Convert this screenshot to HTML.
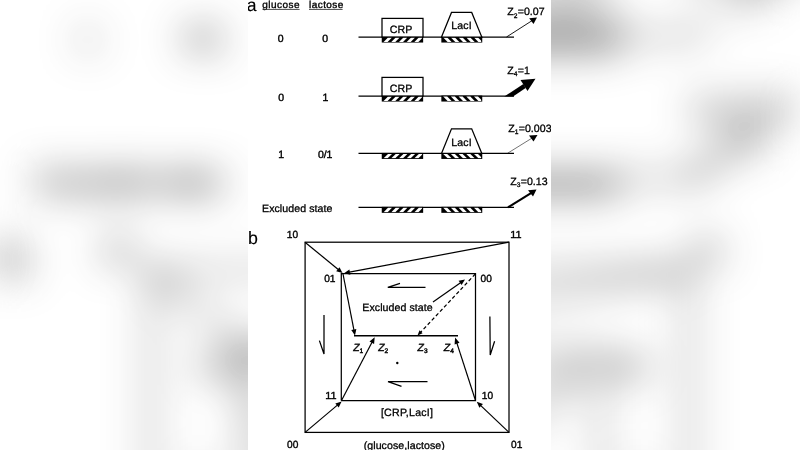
<!DOCTYPE html>
<html><head><meta charset="utf-8"><title>Figure</title>
<style>
html,body{margin:0;padding:0;background:#fff;}
body{width:800px;height:450px;overflow:hidden;position:relative;}
svg{position:absolute;left:0;top:0;display:block;}
text{text-rendering:geometricPrecision;font-family:"Liberation Sans",Arial,Helvetica,sans-serif;fill:#000;stroke:#000;stroke-width:0.29px;letter-spacing:0.07px;}
</style></head><body>
<svg width="800" height="450" viewBox="0 0 800 450">
<defs>
<clipPath id="c0"><rect x="382.8" y="37" width="39.3" height="5.1"/></clipPath><clipPath id="c1"><rect x="442.40000000000003" y="37" width="38.8" height="5.1"/></clipPath><clipPath id="c2"><rect x="382.8" y="96" width="39.3" height="5.1"/></clipPath><clipPath id="c3"><rect x="442.40000000000003" y="96" width="38.8" height="5.1"/></clipPath><clipPath id="c4"><rect x="382.8" y="153.4" width="39.3" height="5.1"/></clipPath><clipPath id="c5"><rect x="442.40000000000003" y="153.4" width="38.8" height="5.1"/></clipPath><clipPath id="c6"><rect x="382.8" y="207.3" width="39.3" height="5.1"/></clipPath><clipPath id="c7"><rect x="442.40000000000003" y="207.3" width="38.8" height="5.1"/></clipPath>
<filter id="blur" x="-20%" y="-20%" width="140%" height="140%"><feGaussianBlur stdDeviation="21"/><feComponentTransfer><feFuncR type="linear" slope="1.9" intercept="-0.9"/><feFuncG type="linear" slope="1.9" intercept="-0.9"/><feFuncB type="linear" slope="1.9" intercept="-0.9"/></feComponentTransfer></filter>
<filter id="soft" x="0" y="0" width="100%" height="100%" filterUnits="userSpaceOnUse"><feGaussianBlur stdDeviation="0.4"/></filter>
<clipPath id="figclip"><rect x="248" y="0" width="303" height="450"/></clipPath>
<g id="fig">
<rect x="248" y="0" width="303" height="450" fill="#fff"/>
<text x="246.8" y="10.6" font-size="17.6" text-anchor="start" style="stroke-width:0.12px">a</text>
<text x="248.1" y="243.5" font-size="17.8" text-anchor="start" style="stroke-width:0.12px">b</text>
<text x="262.3" y="7.6" font-size="10.0" text-anchor="start" style="letter-spacing:0.45px;stroke-width:0.35px">glucose</text>
<text x="309" y="7.6" font-size="10.0" text-anchor="start" style="letter-spacing:0.45px;stroke-width:0.35px">lactose</text>
<line x1="262.5" y1="9.4" x2="299.6" y2="9.4" stroke="#333" stroke-width="0.9"/>
<line x1="309" y1="9.4" x2="342.6" y2="9.4" stroke="#333" stroke-width="0.9"/>
<text x="280.5" y="41.6" font-size="10.5" text-anchor="middle" style="stroke-width:0.4px;letter-spacing:-0.15px">0</text>
<text x="325" y="41.6" font-size="10.5" text-anchor="middle" style="stroke-width:0.4px;letter-spacing:-0.15px">0</text>
<text x="281" y="100.8" font-size="10.5" text-anchor="middle" style="stroke-width:0.4px;letter-spacing:-0.15px">0</text>
<text x="325.3" y="100.8" font-size="10.5" text-anchor="middle" style="stroke-width:0.4px;letter-spacing:-0.15px">1</text>
<text x="281.2" y="157.8" font-size="10.5" text-anchor="middle" style="stroke-width:0.4px;letter-spacing:-0.15px">1</text>
<text x="325.2" y="157.8" font-size="10.5" text-anchor="middle" style="stroke-width:0.4px;letter-spacing:-0.15px">0/1</text>
<text x="262" y="212.2" font-size="10.6" text-anchor="start" >Excluded state</text>
<line x1="358.5" y1="37" x2="514" y2="37" stroke="#000" stroke-width="1.25"/>
<g><rect x="381.75" y="36.55" width="41.4" height="6.0" fill="#000"/><polygon points="383.60,41.9 387.60,41.9 392.00,37.5 388.00,37.5" fill="#fff" clip-path="url(#c0)"/><polygon points="391.30,41.9 395.30,41.9 399.70,37.5 395.70,37.5" fill="#fff" clip-path="url(#c0)"/><polygon points="399.00,41.9 403.00,41.9 407.40,37.5 403.40,37.5" fill="#fff" clip-path="url(#c0)"/><polygon points="406.70,41.9 410.70,41.9 415.10,37.5 411.10,37.5" fill="#fff" clip-path="url(#c0)"/><polygon points="414.40,41.9 418.40,41.9 422.80,37.5 418.80,37.5" fill="#fff" clip-path="url(#c0)"/></g>
<g><rect x="441.35" y="36.55" width="40.9" height="6.0" fill="#000"/><polygon points="447.60,41.9 451.60,41.9 447.20,37.5 443.20,37.5" fill="#fff" clip-path="url(#c1)"/><polygon points="455.30,41.9 459.30,41.9 454.90,37.5 450.90,37.5" fill="#fff" clip-path="url(#c1)"/><polygon points="463.00,41.9 467.00,41.9 462.60,37.5 458.60,37.5" fill="#fff" clip-path="url(#c1)"/><polygon points="470.70,41.9 474.70,41.9 470.30,37.5 466.30,37.5" fill="#fff" clip-path="url(#c1)"/><polygon points="478.40,41.9 482.40,41.9 478.00,37.5 474.00,37.5" fill="#fff" clip-path="url(#c1)"/></g>
<line x1="358.5" y1="96" x2="514" y2="96" stroke="#000" stroke-width="1.25"/>
<g><rect x="381.75" y="95.55" width="41.4" height="6.0" fill="#000"/><polygon points="383.60,100.89999999999999 387.60,100.89999999999999 392.00,96.5 388.00,96.5" fill="#fff" clip-path="url(#c2)"/><polygon points="391.30,100.89999999999999 395.30,100.89999999999999 399.70,96.5 395.70,96.5" fill="#fff" clip-path="url(#c2)"/><polygon points="399.00,100.89999999999999 403.00,100.89999999999999 407.40,96.5 403.40,96.5" fill="#fff" clip-path="url(#c2)"/><polygon points="406.70,100.89999999999999 410.70,100.89999999999999 415.10,96.5 411.10,96.5" fill="#fff" clip-path="url(#c2)"/><polygon points="414.40,100.89999999999999 418.40,100.89999999999999 422.80,96.5 418.80,96.5" fill="#fff" clip-path="url(#c2)"/></g>
<g><rect x="441.35" y="95.55" width="40.9" height="6.0" fill="#000"/><polygon points="447.60,100.89999999999999 451.60,100.89999999999999 447.20,96.5 443.20,96.5" fill="#fff" clip-path="url(#c3)"/><polygon points="455.30,100.89999999999999 459.30,100.89999999999999 454.90,96.5 450.90,96.5" fill="#fff" clip-path="url(#c3)"/><polygon points="463.00,100.89999999999999 467.00,100.89999999999999 462.60,96.5 458.60,96.5" fill="#fff" clip-path="url(#c3)"/><polygon points="470.70,100.89999999999999 474.70,100.89999999999999 470.30,96.5 466.30,96.5" fill="#fff" clip-path="url(#c3)"/><polygon points="478.40,100.89999999999999 482.40,100.89999999999999 478.00,96.5 474.00,96.5" fill="#fff" clip-path="url(#c3)"/></g>
<line x1="358.5" y1="153.4" x2="514" y2="153.4" stroke="#000" stroke-width="1.25"/>
<g><rect x="381.75" y="152.95000000000002" width="41.4" height="6.0" fill="#000"/><polygon points="383.60,158.3 387.60,158.3 392.00,153.9 388.00,153.9" fill="#fff" clip-path="url(#c4)"/><polygon points="391.30,158.3 395.30,158.3 399.70,153.9 395.70,153.9" fill="#fff" clip-path="url(#c4)"/><polygon points="399.00,158.3 403.00,158.3 407.40,153.9 403.40,153.9" fill="#fff" clip-path="url(#c4)"/><polygon points="406.70,158.3 410.70,158.3 415.10,153.9 411.10,153.9" fill="#fff" clip-path="url(#c4)"/><polygon points="414.40,158.3 418.40,158.3 422.80,153.9 418.80,153.9" fill="#fff" clip-path="url(#c4)"/></g>
<g><rect x="441.35" y="152.95000000000002" width="40.9" height="6.0" fill="#000"/><polygon points="447.60,158.3 451.60,158.3 447.20,153.9 443.20,153.9" fill="#fff" clip-path="url(#c5)"/><polygon points="455.30,158.3 459.30,158.3 454.90,153.9 450.90,153.9" fill="#fff" clip-path="url(#c5)"/><polygon points="463.00,158.3 467.00,158.3 462.60,153.9 458.60,153.9" fill="#fff" clip-path="url(#c5)"/><polygon points="470.70,158.3 474.70,158.3 470.30,153.9 466.30,153.9" fill="#fff" clip-path="url(#c5)"/><polygon points="478.40,158.3 482.40,158.3 478.00,153.9 474.00,153.9" fill="#fff" clip-path="url(#c5)"/></g>
<line x1="358.5" y1="207.3" x2="514" y2="207.3" stroke="#000" stroke-width="1.25"/>
<g><rect x="381.75" y="206.85000000000002" width="41.4" height="6.0" fill="#000"/><polygon points="383.60,212.20000000000002 387.60,212.20000000000002 392.00,207.8 388.00,207.8" fill="#fff" clip-path="url(#c6)"/><polygon points="391.30,212.20000000000002 395.30,212.20000000000002 399.70,207.8 395.70,207.8" fill="#fff" clip-path="url(#c6)"/><polygon points="399.00,212.20000000000002 403.00,212.20000000000002 407.40,207.8 403.40,207.8" fill="#fff" clip-path="url(#c6)"/><polygon points="406.70,212.20000000000002 410.70,212.20000000000002 415.10,207.8 411.10,207.8" fill="#fff" clip-path="url(#c6)"/><polygon points="414.40,212.20000000000002 418.40,212.20000000000002 422.80,207.8 418.80,207.8" fill="#fff" clip-path="url(#c6)"/></g>
<g><rect x="441.35" y="206.85000000000002" width="40.9" height="6.0" fill="#000"/><polygon points="447.60,212.20000000000002 451.60,212.20000000000002 447.20,207.8 443.20,207.8" fill="#fff" clip-path="url(#c7)"/><polygon points="455.30,212.20000000000002 459.30,212.20000000000002 454.90,207.8 450.90,207.8" fill="#fff" clip-path="url(#c7)"/><polygon points="463.00,212.20000000000002 467.00,212.20000000000002 462.60,207.8 458.60,207.8" fill="#fff" clip-path="url(#c7)"/><polygon points="470.70,212.20000000000002 474.70,212.20000000000002 470.30,207.8 466.30,207.8" fill="#fff" clip-path="url(#c7)"/><polygon points="478.40,212.20000000000002 482.40,212.20000000000002 478.00,207.8 474.00,207.8" fill="#fff" clip-path="url(#c7)"/></g>
<rect x="382" y="18.4" width="41" height="18.6" fill="#fff" stroke="#000" stroke-width="1.25"/>
<text x="401" y="33.2" font-size="10.6" text-anchor="middle" >CRP</text>
<rect x="382" y="77.4" width="41" height="18.6" fill="#fff" stroke="#000" stroke-width="1.25"/>
<text x="401" y="92.2" font-size="10.6" text-anchor="middle" >CRP</text>
<polygon points="441.5,37 451.5,12.399999999999999 471.7,12.399999999999999 481.8,37" fill="#fff" stroke="#000" stroke-width="1.25"/>
<text x="461.5" y="29.4" font-size="10.6" text-anchor="middle" >LacI</text>
<polygon points="441.5,153.4 451.5,128.8 471.7,128.8 481.8,153.4" fill="#fff" stroke="#000" stroke-width="1.25"/>
<text x="461.5" y="145.8" font-size="10.6" text-anchor="middle" >LacI</text>
<line x1="506.5" y1="37" x2="532.20" y2="20.56" stroke="#000" stroke-width="0.9"/><polygon points="537,17.5 529.2,18.2 533.5,24" fill="#000"/>
<polygon points="504.3,96.6 513,96.6 525.7,88.1 523.4,83.9" fill="#000"/><polygon points="535.5,78.8 520.5,80 527.5,91" fill="#000"/>
<line x1="507.5" y1="153.3" x2="532.19" y2="137.97" stroke="#000" stroke-width="0.55"/><polygon points="537.5,135 529,135.5 533.5,141.5" fill="#000"/>
<line x1="508" y1="207.3" x2="531.40" y2="192.81" stroke="#000" stroke-width="2.1"/><polygon points="536.5,189.5 528,190.3 533,196.5" fill="#000"/>
<text x="507.3" y="15.0" font-size="10.6"><tspan>Z</tspan><tspan font-size="6.68" dy="2.5">2</tspan><tspan dy="-2.5">=0.07</tspan></text>
<text x="507.3" y="73.5" font-size="10.6"><tspan>Z</tspan><tspan font-size="6.68" dy="2.5">4</tspan><tspan dy="-2.5">=1</tspan></text>
<text x="508.3" y="131.5" font-size="10.6"><tspan>Z</tspan><tspan font-size="6.68" dy="2.5">1</tspan><tspan dy="-2.5">=0.003</tspan></text>
<text x="510.3" y="184.5" font-size="10.6"><tspan>Z</tspan><tspan font-size="6.68" dy="2.5">3</tspan><tspan dy="-2.5">=0.13</tspan></text>
<rect x="305.1" y="242.2" width="203.9" height="190.2" fill="none" stroke="#000" stroke-width="1.25"/>
<polyline points="341.3,400.6 341.3,273.5 475.5,273.5 475.5,400.6 341.3,400.6" fill="none" stroke="#000" stroke-width="1.25"/>
<text x="286.8" y="237.75" font-size="10.3" text-anchor="start" textLength="11.3" lengthAdjust="spacingAndGlyphs" style="stroke-width:0.38px;letter-spacing:0">10</text>
<text x="510.3" y="237.75" font-size="10.3" text-anchor="start" textLength="11.3" lengthAdjust="spacingAndGlyphs" style="stroke-width:0.38px;letter-spacing:0">11</text>
<text x="324.2" y="282.25" font-size="10.3" text-anchor="start" textLength="11.3" lengthAdjust="spacingAndGlyphs" style="stroke-width:0.38px;letter-spacing:0">01</text>
<text x="480.6" y="282.25" font-size="10.3" text-anchor="start" textLength="11.3" lengthAdjust="spacingAndGlyphs" style="stroke-width:0.38px;letter-spacing:0">00</text>
<text x="325.3" y="398.95000000000005" font-size="10.3" text-anchor="start" textLength="11.3" lengthAdjust="spacingAndGlyphs" style="stroke-width:0.38px;letter-spacing:0">11</text>
<text x="481.8" y="398.95000000000005" font-size="10.3" text-anchor="start" textLength="11.3" lengthAdjust="spacingAndGlyphs" style="stroke-width:0.38px;letter-spacing:0">10</text>
<text x="287" y="447.85" font-size="10.3" text-anchor="start" textLength="11.3" lengthAdjust="spacingAndGlyphs" style="stroke-width:0.38px;letter-spacing:0">00</text>
<text x="511" y="447.85" font-size="10.3" text-anchor="start" textLength="11.3" lengthAdjust="spacingAndGlyphs" style="stroke-width:0.38px;letter-spacing:0">01</text>
<text x="404.3" y="448.6" font-size="10.6" text-anchor="middle" >(glucose,lactose)</text>
<text x="407.1" y="416.3" font-size="10.6" text-anchor="middle" style="letter-spacing:0.25px">[CRP,LacI]</text>
<text x="362.3" y="310.7" font-size="10.6" text-anchor="start" >Excluded state</text>
<line x1="305" y1="242.2" x2="338.25" y2="269.51" stroke="#000" stroke-width="1.2"/><polygon points="342.50,273.00 336.21,271.20 339.51,267.18" fill="#000"/>
<line x1="509" y1="242.2" x2="349.41" y2="272.18" stroke="#000" stroke-width="1.2"/><polygon points="344.00,273.20 349.42,269.54 350.38,274.65" fill="#000"/>
<line x1="305.1" y1="432.4" x2="337.40" y2="405.15" stroke="#000" stroke-width="1.2"/><polygon points="341.60,401.60 338.69,407.46 335.34,403.48" fill="#000"/>
<line x1="509" y1="432.4" x2="480.79" y2="405.59" stroke="#000" stroke-width="1.2"/><polygon points="476.80,401.80 482.94,404.05 479.36,407.82" fill="#000"/>
<line x1="354" y1="335.7" x2="458" y2="335.7" stroke="#000" stroke-width="1.6"/>
<line x1="343" y1="274" x2="353.89" y2="329.91" stroke="#000" stroke-width="1.2"/><polygon points="355.00,335.60 351.24,329.91 356.35,328.92" fill="#000"/>
<line x1="341.5" y1="400.5" x2="372.01" y2="342.34" stroke="#000" stroke-width="1.2"/><polygon points="374.70,337.20 374.08,343.99 369.47,341.57" fill="#000"/>
<line x1="475.5" y1="400.5" x2="456.89" y2="343.12" stroke="#000" stroke-width="1.2"/><polygon points="455.10,337.60 459.52,342.79 454.57,344.39" fill="#000"/>
<line x1="433" y1="302" x2="460.50" y2="282.66" stroke="#000" stroke-width="1.2"/><polygon points="465.00,279.50 461.59,285.08 458.60,280.82" fill="#000"/>
<line x1="475.3" y1="274" x2="420.72" y2="332.17" stroke="#000" stroke-width="1.2" stroke-dasharray="3.6 2.4"/><polygon points="417.50,335.60 419.53,330.37 422.59,333.24" fill="#000"/>
<text x="353.2" y="350.8" font-size="10.4" style="stroke-width:0.4px"><tspan font-style="italic">Z</tspan><tspan font-size="6.55" dy="2.5">1</tspan><tspan dy="-2.5"></tspan></text>
<text x="378.2" y="350.8" font-size="10.4" style="stroke-width:0.4px"><tspan font-style="italic">Z</tspan><tspan font-size="6.55" dy="2.5">2</tspan><tspan dy="-2.5"></tspan></text>
<text x="417.5" y="350.8" font-size="10.4" style="stroke-width:0.4px"><tspan font-style="italic">Z</tspan><tspan font-size="6.55" dy="2.5">3</tspan><tspan dy="-2.5"></tspan></text>
<text x="443.8" y="350.8" font-size="10.4" style="stroke-width:0.4px"><tspan font-style="italic">Z</tspan><tspan font-size="6.55" dy="2.5">4</tspan><tspan dy="-2.5"></tspan></text>
<circle cx="397.3" cy="363" r="1.2" fill="#000"/>
<polyline points="425.5,287.3 387.8,287.3 400,283.3" fill="none" stroke="#000" stroke-width="1.25"/>
<polyline points="427.5,381.7 388,381.7 401.5,386.3" fill="none" stroke="#000" stroke-width="1.25"/>
<polyline points="324,315 324,354 319.4,340.6" fill="none" stroke="#000" stroke-width="1.25"/>
<polyline points="489.9,316.5 490.2,355 494.6,341.3" fill="none" stroke="#000" stroke-width="1.25"/>
</g>
</defs>
<rect width="800" height="450" fill="#fff"/>
<g filter="url(#blur)"><g transform="translate(400 225) scale(2.64) translate(-399.5 -225)"><use href="#fig"/></g></g>
<g clip-path="url(#figclip)"><g filter="url(#soft)"><use href="#fig"/></g></g>
</svg>
</body></html>
